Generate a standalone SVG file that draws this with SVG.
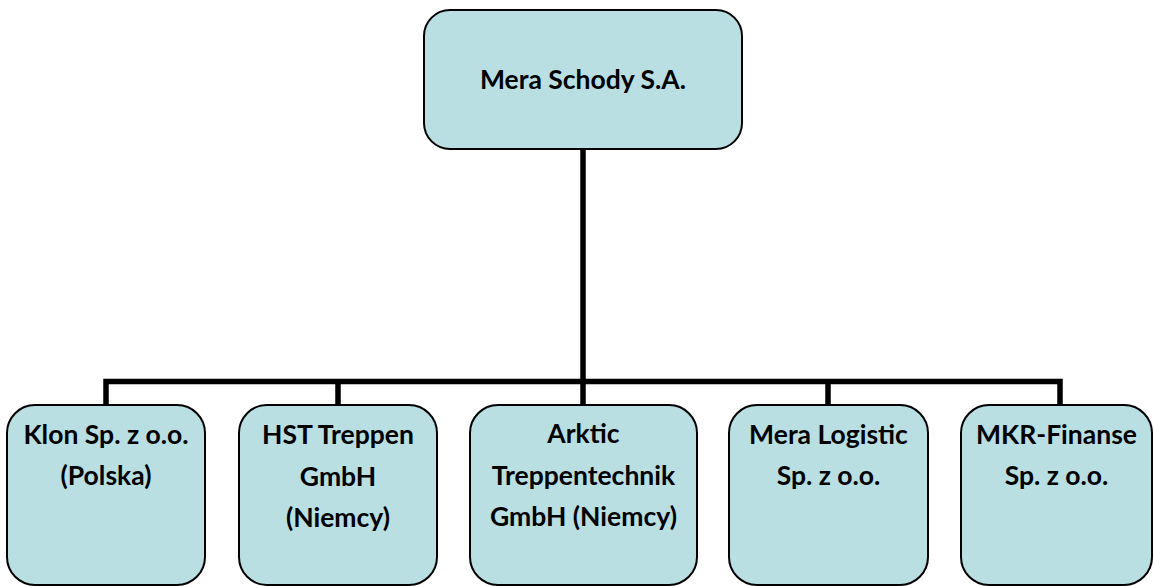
<svg xmlns="http://www.w3.org/2000/svg" width="1154" height="586" viewBox="0 0 1154 586">
<style>
.box{fill:#b9dfe3;stroke:#000;stroke-width:2}
.t{font-family:Lato,"Open Sans","Liberation Sans",sans-serif;font-weight:bold;font-size:26.5px;fill:#000;text-anchor:middle}
.c{fill:none;stroke:#000;stroke-width:5.5}
</style>
<rect width="1154" height="586" fill="#fff"/>
<g id="connectors">
<path class="c" d="M583 149 V382"/>
<path class="c" d="M106 405 V381.5 H1060 V405"/>
<path class="c" d="M338 381.5 V405 M583 381.5 V405 M828 381.5 V405"/>
</g>
<g id="mera-schody">
<rect class="box" x="424" y="10" width="318" height="139" rx="26"/>
<text class="t" x="583" y="89">Mera Schody S.A.</text>
</g>
<g id="klon">
<rect class="box" x="7" y="405" width="198" height="180" rx="28"/>
<text class="t" x="106" y="444">Klon Sp. z o.o.</text>
<text class="t" x="106" y="485">(Polska)</text>
</g>
<g id="hst">
<rect class="box" x="239" y="405" width="198" height="180" rx="28"/>
<text class="t" x="338" y="444">HST Treppen</text>
<text class="t" x="338" y="486">GmbH</text>
<text class="t" x="338" y="527">(Niemcy)</text>
</g>
<g id="arktic">
<rect class="box" x="470" y="405" width="227" height="180" rx="28"/>
<text class="t" x="583.5" y="443">Arktic</text>
<text class="t" x="583.5" y="485">Treppentechnik</text>
<text class="t" x="583.5" y="526">GmbH (Niemcy)</text>
</g>
<g id="mera-logistic">
<rect class="box" x="729" y="405" width="199" height="180" rx="28"/>
<text class="t" x="828.5" y="444">Mera Logistic</text>
<text class="t" x="828.5" y="485">Sp. z o.o.</text>
</g>
<g id="mkr-finanse">
<rect class="box" x="961" y="405" width="191" height="180" rx="28"/>
<text class="t" x="1056.5" y="444">MKR-Finanse</text>
<text class="t" x="1056.5" y="485">Sp. z o.o.</text>
</g>
</svg>
